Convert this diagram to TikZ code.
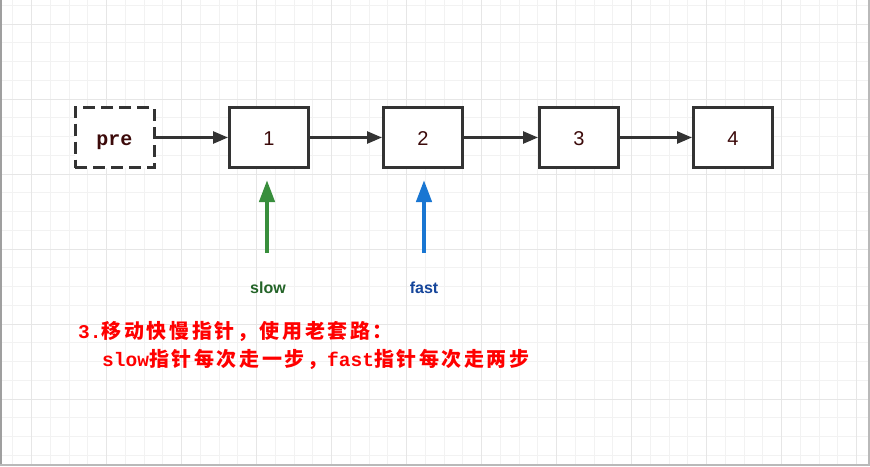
\documentclass[tikz,border=0pt]{standalone}
\usepackage{fontspec}
\setsansfont{Liberation Sans}
\newfontfamily\cjkfont[LetterSpace=13]{Noto Sans CJK SC}
\newfontfamily\monofont{Liberation Mono}
\usepackage{xcolor}
\usepackage{tikz}
\usetikzlibrary{arrows.meta, positioning}
\definecolor{box_line}{RGB}{51, 51, 51}
\definecolor{box_text}{RGB}{60, 10, 10}
\definecolor{slow_mid}{RGB}{56, 142, 60}
\definecolor{slow_dark}{RGB}{36, 100, 40}
\definecolor{fast_mid}{RGB}{25, 118, 210}
\definecolor{fast_dark}{RGB}{22, 70, 155}
\definecolor{note_red}{RGB}{255, 0, 0}
\definecolor{grid_minor}{RGB}{242, 242, 242}
\definecolor{grid_major}{RGB}{230, 230, 230}

\begin{document}
\begin{tikzpicture}[x=1pt, y=-1pt,
    listnode/.style={draw=box_line, line width=3pt, fill=white, minimum width=79pt, minimum height=60pt, inner sep=0pt, text height=15pt, text depth=0pt, text=box_text, font=\sffamily\fontsize{20}{24}\selectfont},
    link/.style={draw=box_line, line width=2.5pt, -{Triangle[length=15pt, width=12pt]}},
    pointer/.style={line width=4.3pt, -{Triangle[length=22pt, width=15pt]}},
    ptrlabel/.style={font=\sffamily\bfseries\fontsize{16}{18}\selectfont}]
          % paper and grid
          \useasboundingbox (0,0) rectangle (870,466);
          \fill[white] (0,0) rectangle (870,466);
          \foreach \i in {0,...,45} \draw[grid_minor, line width=1pt] ({12.95+18.75*\i},0) -- ({12.95+18.75*\i},466);
          \foreach \j in {0,...,24} \draw[grid_minor, line width=1pt] (0,{5.25+18.75*\j}) -- (870,{5.25+18.75*\j});
          \foreach \i in {0,...,11} \draw[grid_major, line width=1pt] ({31.7+75*\i},0) -- ({31.7+75*\i},466);
          \foreach \j in {0,...,5} \draw[grid_major, line width=1pt] (0,{24+75*\j}) -- (870,{24+75*\j});
          \draw[gray!75, line width=1.5pt] (0.75,0) -- (0.75,466);
          \draw[gray!55, line width=2pt] (869,0) -- (869,466);
          \draw[gray!55, line width=2pt] (0,465) -- (870,465);

          % list
          \node[listnode, dashed, dash pattern=on 12pt off 6pt, font=\monofont\bfseries\fontsize{20}{24}\selectfont] (pre) at (114.5, 137.5) {pre};
          \node[listnode] (n1) at (269, 137.5) {1};
          \node[listnode] (n2) at (423, 137.5) {2};
          \node[listnode] (n3) at (579, 137.5) {3};
          \node[listnode] (n4) at (733, 137.5) {4};
          \draw[link] (pre) -- (n1);
          \draw[link] (n1) -- (n2);
          \draw[link] (n2) -- (n3);
          \draw[link] (n3) -- (n4);

          % pointers
          \coordinate (slowtail) at (267, 253);
          \coordinate (slowtip) at (267, 180);
          \coordinate (fasttail) at (424, 253);
          \coordinate (fasttip) at (424, 180);
          \draw[pointer, slow_mid] (slowtail) -- (slowtip);
          \draw[pointer, fast_mid] (fasttail) -- (fasttip);
          \node[ptrlabel, text=slow_dark] (slow) at (268, 288) {slow};
          \node[ptrlabel, text=fast_dark] (fast) at (424, 288) {fast};

          \node[anchor=base west, align=left, inner sep=0pt, text=note_red, font=\bfseries\fontsize{19.5}{28}\selectfont] (note) at (78, 366)
            {{\monofont 3.}{\cjkfont\fontsize{20}{28}\selectfont 移动快慢指针，使用老套路：}\\
             \hspace*{24pt}{\monofont slow}{\cjkfont\fontsize{20}{28}\selectfont 指针每次走一步，}{\monofont fast}{\cjkfont\fontsize{20}{28}\selectfont 指针每次走两步}};
        \end{tikzpicture}
\end{document}
